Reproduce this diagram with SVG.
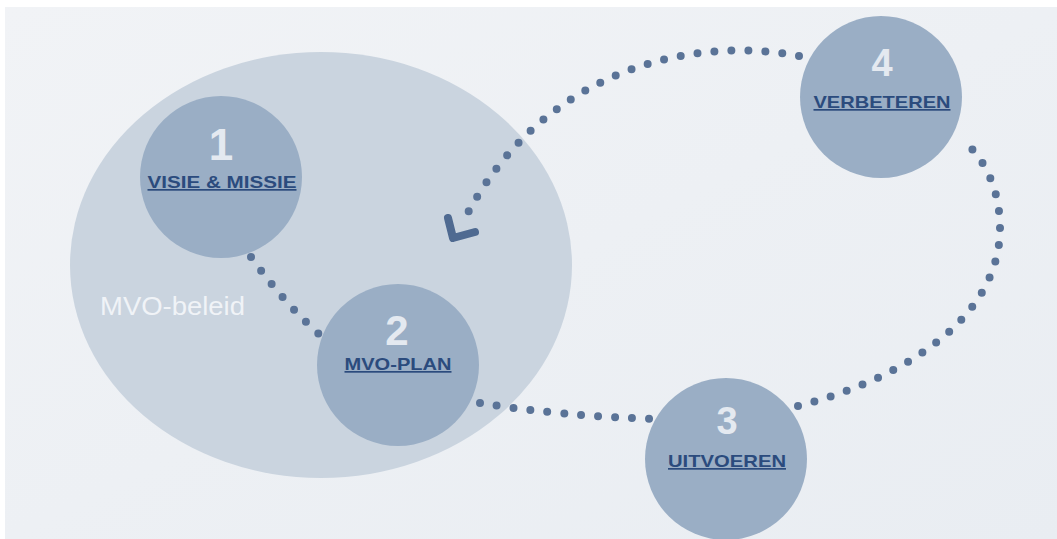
<svg xmlns="http://www.w3.org/2000/svg" width="1057" height="539" viewBox="0 0 1057 539">
  <defs>
    <linearGradient id="bg" x1="0" y1="0" x2="1" y2="1">
      <stop offset="0" stop-color="#f1f3f6"/>
      <stop offset="1" stop-color="#e9edf2"/>
    </linearGradient>
  </defs>
  <style>
    .step { fill: #9aaec5; }
    .num { font-family: "Liberation Sans", Arial, sans-serif; font-weight: bold; fill: #e4e9f0; text-anchor: middle; }
    .lbl { font-family: "Liberation Sans", Arial, sans-serif; font-weight: bold; font-size: 17px; fill: #2b4b7d; text-anchor: middle; text-decoration: underline; }
    .dots { fill: none; stroke: #5a7397; stroke-width: 8; stroke-linecap: round; stroke-dasharray: 0 17; }
    .head { fill: none; stroke: #4f6a91; stroke-width: 8; stroke-linecap: round; stroke-linejoin: round; }
  </style>
  <rect x="0" y="0" width="1057" height="539" fill="#ffffff"/>
  <rect x="5" y="7" width="1052" height="532" fill="url(#bg)"/>

  <g id="mvo-beleid">
    <ellipse cx="321" cy="265" rx="251" ry="213" fill="#cad4df"/>
    <text x="100" y="315" font-family="Liberation Sans, Arial, sans-serif" font-size="25" fill="#f0f3f7" textLength="145" lengthAdjust="spacingAndGlyphs">MVO-beleid</text>
  </g>

  <g id="connectors">
    <path class="dots" d="M 251,257 Q 283,302 320,335"/>
    <path class="dots" d="M 480,403 Q 560,416 657,419"/>
    <path class="dots" d="M 798,406 C 900,380 1000,320 1000,228 C 1000,190 985,160 965,142"/>
    <path class="dots" d="M 799,56 C 690,35 540,70 463,222"/>
    <path class="head" d="M 448,218 L 453,238 L 475,232"/>
  </g>

  <g id="step1">
    <circle class="step" cx="221" cy="177" r="81"/>
    <text class="num" x="221" y="160" font-size="44">1</text>
    <text class="lbl" x="222" y="188" textLength="149" lengthAdjust="spacingAndGlyphs">VISIE &amp; MISSIE</text>
  </g>

  <g id="step2">
    <circle class="step" cx="398" cy="365" r="81"/>
    <text class="num" x="397" y="345" font-size="42">2</text>
    <text class="lbl" x="398" y="370" textLength="107" lengthAdjust="spacingAndGlyphs">MVO-PLAN</text>
  </g>

  <g id="step3">
    <circle class="step" cx="726" cy="459" r="81"/>
    <text class="num" x="727" y="434" font-size="38">3</text>
    <text class="lbl" x="727" y="467" textLength="118" lengthAdjust="spacingAndGlyphs">UITVOEREN</text>
  </g>

  <g id="step4">
    <circle class="step" cx="881" cy="97" r="81"/>
    <text class="num" x="882" y="76" font-size="38">4</text>
    <text class="lbl" x="882" y="108" textLength="137" lengthAdjust="spacingAndGlyphs">VERBETEREN</text>
  </g>
</svg>
